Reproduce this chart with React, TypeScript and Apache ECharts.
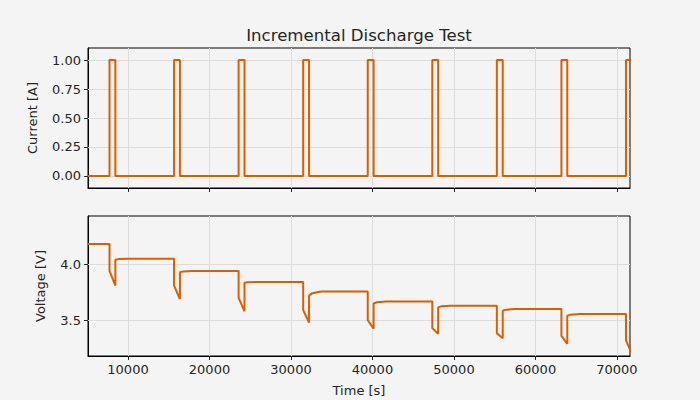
import React, { useEffect, useRef } from "react";
import * as echarts from "echarts";

const pulseStart = [7730, 15652, 23574, 31496, 39418, 47340, 55262, 63184, 71106];
const pulseEnd = [8450, 16372, 24294, 32216, 40138, 48060, 55982, 63904, 71826];
const pulseCurrent = [1, 1, 1, 1, 1, 1, 1, 1, 1];
const restCurrent = 0;

const restBefore = [4.18, 4.05, 3.94, 3.842, 3.757, 3.668, 3.63, 3.60, 3.557];
const loadStart = [3.94, 3.81, 3.70, 3.59, 3.50, 3.43, 3.385, 3.36, 3.32];
const loadEnd = [3.81, 3.69, 3.58, 3.48, 3.425, 3.38, 3.34, 3.29, 3.20];
const recoveryJump = [4.04, 3.93, 3.835, 3.72, 3.65, 3.615, 3.585, 3.54];
const recoveryMid = [4.046, 3.936, 3.839, 3.742, 3.661, 3.625, 3.595, 3.55];
const recoveryDelay = [400, 400, 400, 400, 400, 400, 400, 400];
const relaxDelay = [1500, 1500, 1500, 1500, 1500, 1500, 1500, 1500];

const tStart = 5092;
const tEnd = 71600;
const xTicks = [10000, 20000, 30000, 40000, 50000, 60000, 70000];
const currentTicks = [0, 0.25, 0.5, 0.75, 1.0];
const voltageTicks = [3.5, 4.0];

const COLOR = "#d95f02";
const TEXT = "#262626";

function buildCurrent(): number[][] {
  const pts: number[][] = [[tStart, restCurrent]];
  for (let i = 0; i < pulseStart.length; i++) {
    pts.push([pulseStart[i], restCurrent]);
    pts.push([pulseStart[i], pulseCurrent[i]]);
    pts.push([pulseEnd[i], pulseCurrent[i]]);
    pts.push([pulseEnd[i], restCurrent]);
  }
  return pts;
}

function buildVoltage(): number[][] {
  const pts: number[][] = [[tStart, restBefore[0]]];
  for (let i = 0; i < pulseStart.length; i++) {
    pts.push([pulseStart[i], restBefore[i]]);
    pts.push([pulseStart[i], loadStart[i]]);
    pts.push([pulseEnd[i], loadEnd[i]]);
    if (i < recoveryJump.length) {
      pts.push([pulseEnd[i], recoveryJump[i]]);
      pts.push([pulseEnd[i] + recoveryDelay[i], recoveryMid[i]]);
      pts.push([pulseEnd[i] + relaxDelay[i], restBefore[i + 1]]);
    }
  }
  return pts;
}

const font = "DejaVu Sans";

function xAxisCfg(gridIndex: number, showLabels: boolean) {
  return {
    type: "value",
    gridIndex,
    min: tStart,
    max: tEnd,
    name: showLabels ? "Time [s]" : "",
    nameLocation: "middle",
    nameGap: 28,
    nameTextStyle: { color: TEXT, fontSize: 13, fontFamily: font },
    axisLine: { show: true, onZero: false, lineStyle: { color: "#000", width: 1 } },
    axisTick: { show: true, customValues: xTicks, length: 4, lineStyle: { color: "#262626" } },
    axisLabel: {
      show: showLabels,
      customValues: xTicks,
      color: TEXT,
      fontSize: 13,
      fontFamily: font,
      margin: 7,
      formatter: (v: number) => String(v),
    },
    splitLine: { show: false },
  };
}

function yAxisCfg(gridIndex: number, min: number, max: number, ticks: number[], name: string, gap: number, digits: number) {
  return {
    type: "value",
    gridIndex,
    min,
    max,
    name,
    nameLocation: "middle",
    nameGap: gap,
    nameTextStyle: { color: TEXT, fontSize: 13, fontFamily: font },
    axisLine: { show: true, onZero: false, lineStyle: { color: "#000", width: 1 } },
    axisTick: { show: true, customValues: ticks, length: 4, lineStyle: { color: "#262626" } },
    axisLabel: {
      customValues: ticks,
      color: TEXT,
      fontSize: 13,
      fontFamily: font,
      margin: 7,
      formatter: (v: number) => v.toFixed(digits),
    },
    splitLine: { show: false },
  };
}

function gridLines(values: number[], axis: "x" | "y") {
  return values.map((v) => (axis === "x" ? { xAxis: v } : { yAxis: v }));
}

export default function App() {
  const ref = useRef<HTMLDivElement>(null);
  useEffect(() => {
    if (!ref.current) return;
    const chart = echarts.init(ref.current, undefined, { renderer: "svg" });
    const gridLineStyle = { color: "#dcdcdc", width: 1, type: "solid" };
    const mkLine = (ticks: number[], yTicks: number[]) => ({
      silent: true,
      symbol: "none",
      z: 1,
      label: { show: false },
      lineStyle: gridLineStyle,
      animation: false,
      data: [...gridLines(ticks, "x"), ...gridLines(yTicks, "y")],
    });
    chart.setOption({
      animation: false,
      backgroundColor: "#f4f4f4",
      graphic: [
        {
          type: "text",
          x: 359,
          y: 35,
          style: {
            text: "Incremental Discharge Test",
            fill: TEXT,
            font: "16.6px 'DejaVu Sans'",
            textAlign: "center",
            textVerticalAlign: "middle",
          },
        },
      ],
      grid: [
        { left: 88, top: 48, width: 542, height: 140, show: true, borderColor: "#000", borderWidth: 1, backgroundColor: "transparent" },
        { left: 88, top: 216, width: 542, height: 140, show: true, borderColor: "#000", borderWidth: 1, backgroundColor: "transparent" },
      ],
      xAxis: [xAxisCfg(0, false), xAxisCfg(1, true)],
      yAxis: [
        yAxisCfg(0, -0.1035, 1.1035, currentTicks, "Current [A]", 49, 2),
        yAxisCfg(1, 3.181, 4.431, voltageTicks, "Voltage [V]", 41, 1),
      ],
      series: [
        {
          type: "line",
          xAxisIndex: 0,
          yAxisIndex: 0,
          data: buildCurrent(),
          showSymbol: false,
          lineStyle: { color: COLOR, width: 2 },
          itemStyle: { color: COLOR },
          markLine: mkLine(xTicks, currentTicks),
          z: 3,
        },
        {
          type: "line",
          xAxisIndex: 1,
          yAxisIndex: 1,
          data: buildVoltage(),
          showSymbol: false,
          lineStyle: { color: COLOR, width: 2 },
          itemStyle: { color: COLOR },
          markLine: mkLine(xTicks, voltageTicks),
          z: 3,
        },
      ],
    });
    return () => chart.dispose();
  }, []);
  return <div ref={ref} style={{ width: 700, height: 400, position: "absolute", left: 0, top: 0 }} />;
}
